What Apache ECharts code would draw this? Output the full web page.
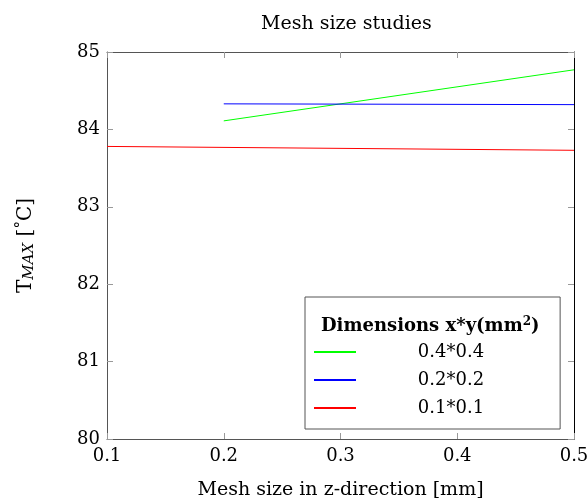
<!DOCTYPE html>
<html><head><meta charset="utf-8">
<script src="https://cdn.jsdelivr.net/npm/echarts@6/dist/echarts.min.js"></script>
<style>html,body{margin:0;padding:0;background:#fff}#c{width:587px;height:501px}</style>
</head><body><div id="c"></div>
<script>
const xTicks = [0.1, 0.2, 0.3, 0.4, 0.5];
const yTicks = [80, 81, 82, 83, 84, 85];
const seriesNames = ['0.4*0.4', '0.2*0.2', '0.1*0.1'];
const green_x = [0.2, 0.5];
const green_y = [84.11, 84.77];
const blue_x = [0.2, 0.5];
const blue_y = [84.33, 84.32];
const red_x = [0.1, 0.5];
const red_y = [83.78, 83.73];
const colors = ['#00ff00', '#0000ff', '#ff0000'];

const F = 'DejaVu Serif';
const pairs = (xs, ys) => xs.map((x, i) => [x, ys[i]]);
const chart = echarts.init(document.getElementById('c'));
const axisCommon = {
  axisLine: {show: true, lineStyle: {color: '#555', width: 1}},
  axisTick: {show: true, inside: true, length: 6, lineStyle: {color: '#999'}},
  splitLine: {show: false}
};
chart.setOption({
  animation: false,
  textStyle: {fontFamily: F},
  title: [
    {text: 'Mesh size studies', left: 256, top: 10, textStyle: {fontFamily: F, fontSize: 19, fontWeight: 'normal', color: '#000'}},
    {text: 'Dimensions x*y(mm{s|2})', left: 316, top: 311,
     textStyle: {fontFamily: F, fontSize: 18, fontWeight: 'bold', color: '#000',
       rich: {s: {fontFamily: F, fontSize: 12, fontWeight: 'bold', verticalAlign: 'top', padding: [0,0,9,0], color: '#000'}}}}
  ],
  grid: {left: 107, right: 13, top: 52, bottom: 62, outerBoundsMode: 'none'},
  legend: {
    orient: 'vertical', left: 305, top: 297,
    padding: [46, 76, 12, 8],
    itemWidth: 42, itemHeight: 14, itemGap: 10,
    borderColor: '#555', borderWidth: 1,
    itemStyle: {opacity: 0},
    data: seriesNames,
    formatter: '{a|{name}}',
    textStyle: {fontFamily: F, fontSize: 18, color: '#000',
      rich: {a: {fontFamily: F, fontSize: 18, color: '#000', width: 180, align: 'center'}}}
  },
  xAxis: [
    Object.assign({type: 'value', min: xTicks[0], max: xTicks[xTicks.length-1], interval: 0.1,
      name: 'Mesh size in z-direction [mm]', nameLocation: 'middle', nameGap: 42,
      nameTextStyle: {fontFamily: F, fontSize: 19, color: '#000'},
      axisLabel: {fontFamily: F, fontSize: 18, color: '#000', margin: 8, formatter: v => v.toFixed(1)}}, axisCommon),
    Object.assign({type: 'value', position: 'top', min: xTicks[0], max: xTicks[xTicks.length-1], interval: 0.1,
      axisLabel: {show: false}}, axisCommon)
  ],
  yAxis: [
    Object.assign({type: 'value', min: yTicks[0], max: yTicks[yTicks.length-1], interval: 1,
      name: '{n|T}{sub|MAX}{n| [}{sup|°}{n|C]}', nameLocation: 'middle', nameGap: 70, nameRotate: 90,
      nameTextStyle: {fontFamily: F, fontSize: 20, color: '#000',
        rich: {n: {fontFamily: F, fontSize: 20, color: '#000'},
               sup: {fontFamily: F, fontSize: 15, color: '#000', verticalAlign: 'top', padding: [0,0,6,0]},
               sub: {fontFamily: F, fontSize: 15, fontStyle: 'italic', color: '#000', verticalAlign: 'bottom', padding: [8,0,0,0]}}},
      axisLabel: {fontFamily: F, fontSize: 18, color: '#000', margin: 7}}, axisCommon),
    Object.assign({type: 'value', position: 'right', min: yTicks[0], max: yTicks[yTicks.length-1], interval: 1,
      axisLabel: {show: false}}, axisCommon, {axisLine: {show: true, lineStyle: {color: '#000', width: 1}}})
  ],
  series: [
    {name: seriesNames[0], type: 'line', data: pairs(green_x, green_y), showSymbol: false, symbol: 'none', lineStyle: {color: colors[0], width: 1}, itemStyle: {color: colors[0]}},
    {name: seriesNames[1], type: 'line', data: pairs(blue_x, blue_y), showSymbol: false, symbol: 'none', lineStyle: {color: colors[1], width: 1}, itemStyle: {color: colors[1]}},
    {name: seriesNames[2], type: 'line', data: pairs(red_x, red_y), showSymbol: false, symbol: 'none', lineStyle: {color: colors[2], width: 1}, itemStyle: {color: colors[2]}}
  ]
});
</script></body></html>
